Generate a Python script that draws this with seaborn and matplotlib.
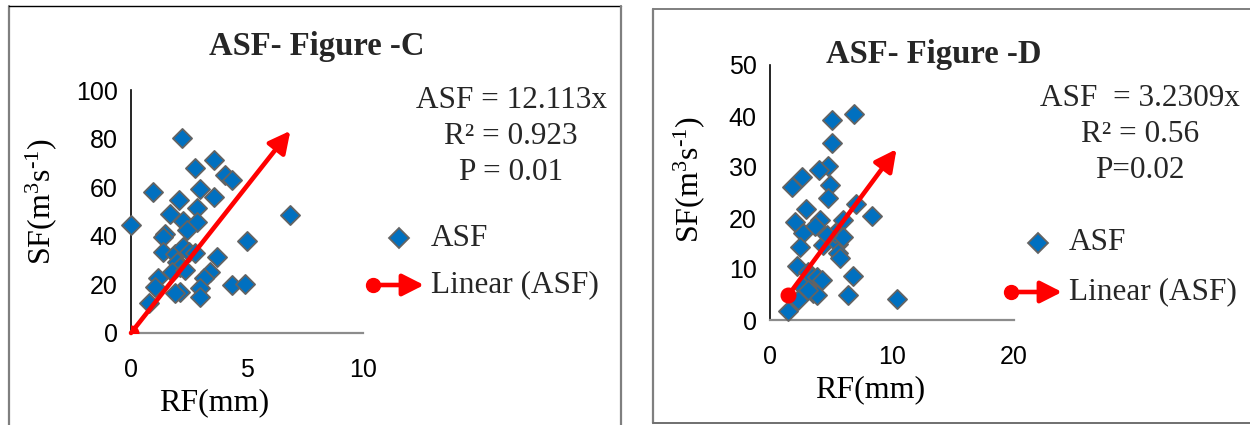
import numpy as np
import pandas as pd
import seaborn as sns
import matplotlib
matplotlib.use("Agg")
import matplotlib.pyplot as plt
from matplotlib.lines import Line2D
from matplotlib.patches import FancyArrowPatch

# ---------------- data ----------------
c_rf = [0, 2.19, 3.56, 2.77, 4.06, 4.35, 0.94, 2.98, 3.56, 2.05, 2.84, 1.66, 2.26,
        2.84, 2.41, 1.47, 1.40, 6.87, 5.0, 3.70, 1.37, 1.90, 2.23, 2.48, 2.76, 1.97,
        2.12, 1.76, 2.33, 3.41, 3.13, 1.18, 1.04, 2.12, 1.90, 2.98, 2.98, 4.35, 4.93, 0.79]
c_sf = [44.6, 80.2, 71.2, 67.9, 65.2, 63.0, 58.0, 59.3, 55.9, 54.8, 51.6, 49.1, 46.1,
        45.7, 42.3, 40.9, 39.6, 48.4, 37.8, 31.4, 33.4, 32.7, 35.5, 33.4, 33.0, 29.3,
        27.3, 25.2, 25.9, 25.2, 22.5, 22.5, 19.1, 16.8, 16.4, 18.4, 15.0, 19.8, 20.0, 12.3]
c_slope = 12.113

d_rf = [1.50, 6.88, 5.05, 5.05, 4.77, 4.04, 2.59, 1.77, 4.91, 4.77, 7.04, 8.32, 2.95,
        2.05, 4.09, 5.96, 2.73, 3.68, 2.46, 4.37, 5.59, 5.32, 6.0, 5.59, 5.73, 2.18,
        3.14, 3.41, 3.82, 4.23, 6.77, 2.73, 3.55, 3.82, 6.41, 10.37, 2.32, 3.14, 4.64]
d_sf = [1.8, 40.4, 39.2, 34.8, 30.2, 29.4, 28.1, 26.1, 26.5, 23.9, 22.7, 20.4, 21.8,
        19.3, 19.7, 19.6, 17.1, 18.4, 14.4, 14.7, 15.0, 17.0, 16.3, 13.1, 12.1, 10.5,
        9.5, 8.5, 8.5, 7.8, 8.6, 6.5, 5.2, 4.9, 4.9, 4.2, 3.9, 5.9, 16.7]
d_slope = 3.2309

titles = ["ASF- Figure -C", "ASF- Figure -D"]
eq_c = ["ASF = 12.113x", "R² = 0.923", "P = 0.01"]
eq_d = ["ASF  = 3.2309x", "R² = 0.56", "P=0.02"]
c_xticks = [0, 5, 10]
c_yticks = [0, 20, 40, 60, 80, 100]
d_xticks = [0, 10, 20]
d_yticks = [0, 10, 20, 30, 40, 50]
y_label = r"SF(m$^{3}$s$^{\text{-}1}$)"

# ---------------- style ----------------
sns.set_theme(style="white")
SERIF = ["Liberation Serif", "DejaVu Serif"]
plt.rcParams["font.family"] = SERIF
plt.rcParams["mathtext.fontset"] = "custom"
plt.rcParams["mathtext.rm"] = "Liberation Serif"
plt.rcParams["mathtext.it"] = "Liberation Serif:italic"
plt.rcParams["mathtext.default"] = "regular"

W, H = 1250, 425
fig = plt.figure(figsize=(12.5, 4.25), dpi=100)
fig.patch.set_facecolor("white")

BLUE = "#0070C0"
EDGE = "#636363"
RED = "#FF0000"
GRAY = "#8c8c8c"
TICKFONT = ["Liberation Sans Narrow", "Liberation Sans", "DejaVu Sans"]


def fx(px):
    return px / W


def fy(py):
    return 1 - py / H


def make_panel(rect, rf, sf, slope, xlim, ylim, xt, yt, xlab_pos, ylab_pos):
    ax = fig.add_axes(rect)
    df = pd.DataFrame({"RF": rf, "SF": sf})
    sns.scatterplot(data=df, x="RF", y="SF", ax=ax, marker="D", s=95,
                    color=BLUE, edgecolor=EDGE, linewidth=1.3, zorder=3,
                    clip_on=False, legend=False)
    x0, x1 = min(rf), max(rf)
    ax.annotate("", xy=(x1, slope * x1), xytext=(x0, slope * x0),
                arrowprops=dict(arrowstyle="-|>,head_length=0.65,head_width=0.33",
                                color=RED, lw=3.3, mutation_scale=20,
                                shrinkA=0, shrinkB=0), zorder=5)
    ax.plot([x0], [slope * x0], marker="o", ms=10.5, color=RED, zorder=6,
            clip_on=True)
    ax.set_xlim(*xlim)
    ax.set_ylim(*ylim)
    ax.set_xticks(xt)
    ax.set_yticks(yt)
    for s in ["top", "right"]:
        ax.spines[s].set_visible(False)
    ax.spines["left"].set_color("black")
    ax.spines["left"].set_linewidth(1.2)
    ax.spines["bottom"].set_color(GRAY)
    ax.spines["bottom"].set_linewidth(1.6)
    ax.tick_params(axis="y", which="major", direction="out", length=4.5,
                   width=1.1, color="black", pad=5, labelsize=18)
    ax.tick_params(axis="x", which="major", direction="out", length=5,
                   width=1.4, color=GRAY, pad=13, labelsize=18)
    for lab in ax.get_xticklabels() + ax.get_yticklabels():
        lab.set_family(TICKFONT)
        lab.set_color("black")
    ax.set_xlabel("RF(mm)", fontsize=23, color="black")
    ax.set_ylabel(y_label, fontsize=23, color="black")
    ax.xaxis.label.set_va("center")
    ax.yaxis.label.set_va("center")
    ax.xaxis.set_label_coords(*xlab_pos)
    ax.yaxis.set_label_coords(*ylab_pos)
    ax.set_facecolor("white")
    return ax


# panel C axes: x 131..363 px, y 90..333 px
axc = make_panel([fx(131), fy(333), (363 - 131) / W, (333 - 90) / H],
                 c_rf, c_sf, c_slope, (0, 10), (0, 100), c_xticks, c_yticks,
                 ((214 - 131) / 232, (333 - 403) / 243),
                 ((41 - 131) / 232, (333 - 202) / 243))
# panel D axes: x 770..1014 px, y 65..320 px
axd = make_panel([fx(770), fy(320), (1014 - 770) / W, (320 - 65) / H],
                 d_rf, d_sf, d_slope, (0, 20), (0, 50), d_xticks, d_yticks,
                 ((870 - 770) / 244, (320 - 390) / 255),
                 ((689 - 770) / 244, (320 - 180) / 255))

# titles
fig.text(fx(317), fy(46), titles[0], ha="center", va="center",
         fontsize=23.5, fontweight="bold")
fig.text(fx(934), fy(55), titles[1], ha="center", va="center",
         fontsize=23.5, fontweight="bold")

# equations
for txt, yy in zip(eq_c, [100, 137, 172]):
    fig.text(fx(511), fy(yy), txt, ha="center", va="center", fontsize=22.5)
for txt, yy in zip(eq_d, [98, 135, 170]):
    fig.text(fx(1140), fy(yy), txt, ha="center", va="center", fontsize=22.5)


# legends (manual, figure coordinates)
def legend(dx, dy, tx, ay, cx, tipx):
    fig.add_artist(Line2D([fx(dx)], [fy(dy)], marker="D", ms=10, color=BLUE,
                          markeredgecolor=EDGE, markeredgewidth=1.3,
                          linestyle="none", transform=fig.transFigure))
    fig.text(fx(tx), fy(dy), "ASF", ha="left", va="center", fontsize=22.5)
    fig.add_artist(FancyArrowPatch((fx(cx), fy(ay)), (fx(tipx), fy(ay)),
                                   transform=fig.transFigure,
                                   arrowstyle="-|>,head_length=0.65,head_width=0.33",
                                   color=RED, lw=3.3, mutation_scale=20,
                                   shrinkA=0, shrinkB=0))
    fig.add_artist(Line2D([fx(cx)], [fy(ay)], marker="o", ms=10, color=RED,
                          linestyle="none", transform=fig.transFigure))
    fig.text(fx(tx), fy(ay), "Linear (ASF)", ha="left", va="center",
             fontsize=22.5)


legend(399, 238, 431, 285, 373, 424)
legend(1038, 243, 1069, 292, 1011, 1062)

# panel frames
fig.add_artist(Line2D([fx(9), fx(9)], [fy(6), fy(425)], color="#7f7f7f", lw=1.6,
                      transform=fig.transFigure))
fig.add_artist(Line2D([fx(9), fx(621)], [fy(6), fy(6)], color="black", lw=1.0,
                      transform=fig.transFigure))
fig.add_artist(Line2D([fx(621), fx(621)], [fy(6), fy(425)], color="#7f7f7f", lw=1.6,
                      transform=fig.transFigure))
fig.add_artist(Line2D([fx(653), fx(653)], [fy(9), fy(423)], color="#7f7f7f", lw=1.6,
                      transform=fig.transFigure))
fig.add_artist(Line2D([fx(653), fx(1250)], [fy(9), fy(9)], color="#7f7f7f", lw=1.4,
                      transform=fig.transFigure))
fig.add_artist(Line2D([fx(653), fx(1250)], [fy(423), fy(423)], color="#6f6f6f", lw=1.4,
                      transform=fig.transFigure))

fig.savefig("out.png", dpi=100, facecolor="white")
